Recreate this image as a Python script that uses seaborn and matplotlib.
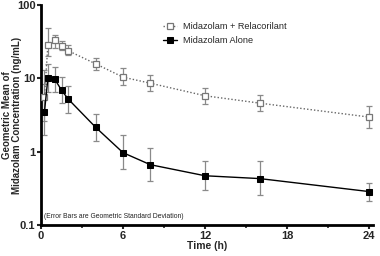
import matplotlib
matplotlib.use("Agg")
import matplotlib.pyplot as plt
import seaborn as sns
import numpy as np
import pandas as pd
from matplotlib.ticker import FixedLocator, NullFormatter

sns.set_theme(style="ticks")
plt.rcParams['font.family'] = ['Liberation Sans', 'DejaVu Sans']

time_h = [0.25, 0.5, 1, 1.5, 2, 4, 6, 8, 12, 16, 24]
rel_mean = [5.5, 28.7, 33.6, 28.0, 23.8, 15.8, 10.4, 8.6, 5.8, 4.6, 2.97]
rel_lo = [2.6, 20.0, 26.0, 24.5, 21.0, 13.1, 8.2, 6.8, 4.5, 3.55, 2.1]
rel_hi = [13.0, 49.0, 39.0, 32.0, 28.5, 18.9, 13.8, 11.0, 7.5, 6.0, 4.2]
alone_mean = [3.5, 10.0, 9.8, 6.9, 5.2, 2.15, 0.97, 0.665, 0.47, 0.43, 0.286]
alone_lo = [1.7, 6.5, 6.6, 4.6, 3.4, 1.38, 0.59, 0.40, 0.30, 0.26, 0.21]
alone_hi = [8.5, 15.5, 14.5, 10.6, 7.8, 3.3, 1.67, 1.13, 0.75, 0.75, 0.38]
series_names = ["Midazolam + Relacorilant", "Midazolam Alone"]
x_ticks = [0, 6, 12, 18, 24]
y_ticks = [0.1, 1, 10, 100]
y_ticklabels = ["0.1", "1", "10", "100"]

df = pd.concat([
    pd.DataFrame({"t": time_h, "c": rel_mean, "s": series_names[0]}),
    pd.DataFrame({"t": time_h, "c": alone_mean, "s": series_names[1]}),
])

fig = plt.figure(figsize=(3.8, 2.56), dpi=100)
ax = fig.add_axes([0.108, 0.121, 0.874, 0.859])

ecol = "#8a8a8a"
for mean, lo, hi in [(rel_mean, rel_lo, rel_hi), (alone_mean, alone_lo, alone_hi)]:
    m = np.array(mean)
    ax.errorbar(time_h, m, yerr=[m - np.array(lo), np.array(hi) - m], fmt="none",
                ecolor=ecol, elinewidth=0.9, capsize=2.2, capthick=0.9, zorder=1)

sub_r = df[df.s == series_names[0]]
sub_a = df[df.s == series_names[1]]
sns.lineplot(data=sub_r, x="t", y="c", ax=ax, color="#666666", linestyle=(0, (1, 1.5)),
             linewidth=1.0, marker="s", markersize=5, markerfacecolor="white",
             markeredgecolor="#777777", markeredgewidth=0.9, label=series_names[0], zorder=3)
sns.lineplot(data=sub_a, x="t", y="c", ax=ax, color="black", linestyle="-",
             linewidth=1.0, marker="s", markersize=5, markerfacecolor="black",
             markeredgecolor="black", label=series_names[1], zorder=3)

ax.set_yscale("log")
ax.set_ylim(0.1, 100)
ax.set_xlim(0, 24.3)
ax.set_yticks(y_ticks)
ax.set_yticklabels(y_ticklabels)
ax.yaxis.set_minor_formatter(NullFormatter())
ax.set_xticks(x_ticks)
ax.xaxis.set_minor_locator(FixedLocator([3, 9, 15, 21]))
ax.tick_params(axis="both", which="major", labelsize=8, width=1.5, length=3, pad=1)
ax.tick_params(axis="x", which="minor", width=1.2, length=2)
ax.tick_params(axis="y", which="minor", length=0)
for lab in ax.get_xticklabels() + ax.get_yticklabels():
    lab.set_fontweight("bold")

for sp in ["top", "right"]:
    ax.spines[sp].set_visible(False)
for sp in ["left", "bottom"]:
    ax.spines[sp].set_linewidth(2)
    ax.spines[sp].set_color("black")

ax.set_xlabel("Time (h)", fontsize=7.5, fontweight="bold", labelpad=0)
ax.set_ylabel("Geometric Mean of\nMidazolam Concentration (ng/mL)", fontsize=7,
              fontweight="bold", linespacing=1.05)
ax.yaxis.set_label_coords(-0.057, 0.5)

ax.text(0.2, 0.117, "(Error Bars are Geometric Standard Deviation)", fontsize=4.9,
        color="#222222", va="bottom", ha="left")

leg = ax.legend(loc="upper left", bbox_to_anchor=(0.355, 0.94), frameon=False, fontsize=6.6,
                handlelength=1.6, handletextpad=0.6, labelspacing=0.6, borderaxespad=0)

fig.savefig("out.png", dpi=100)
